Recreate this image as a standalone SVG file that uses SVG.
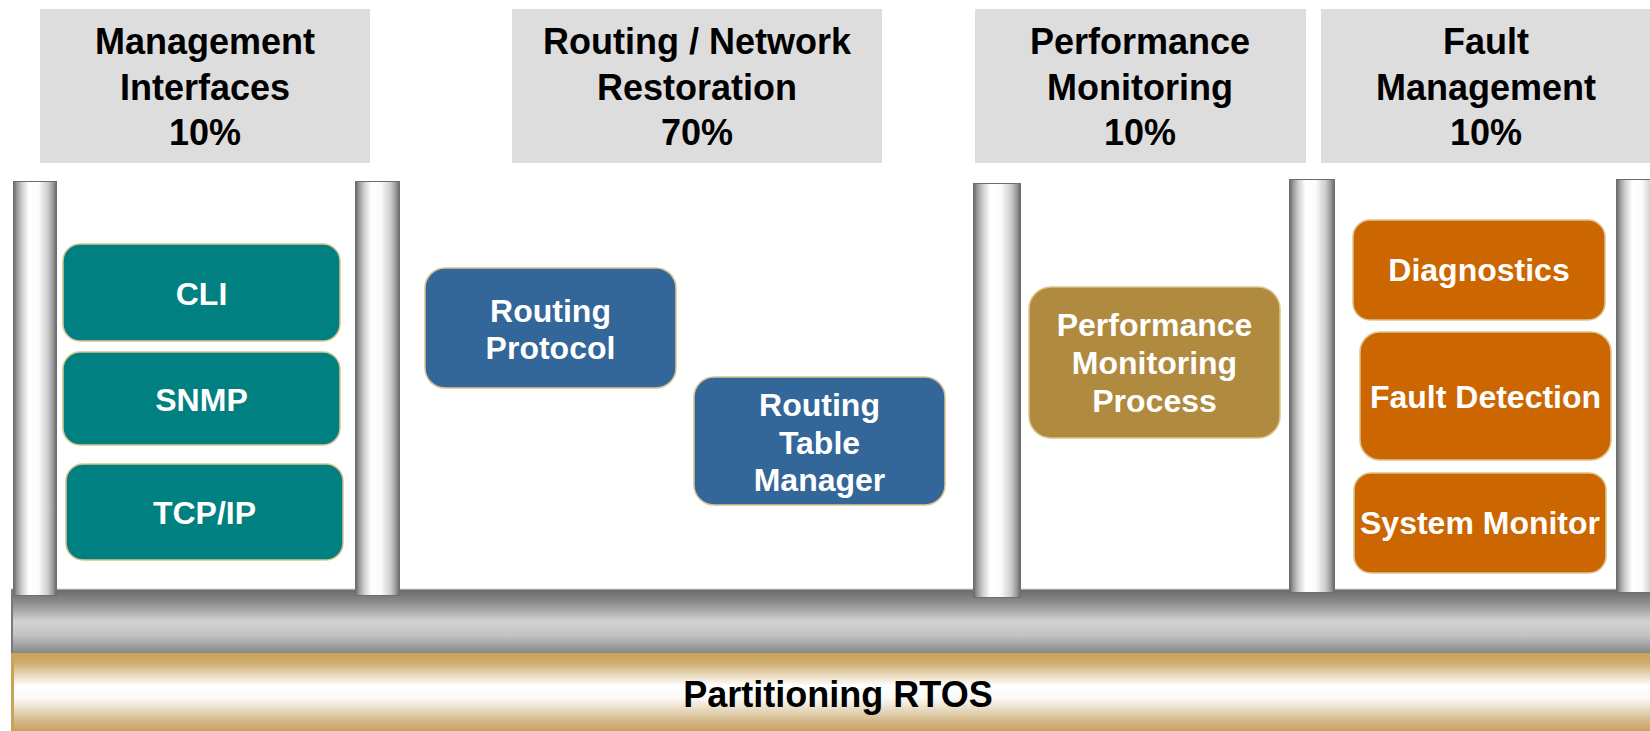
<svg xmlns="http://www.w3.org/2000/svg" width="1650" height="731" viewBox="0 0 1650 731">
  <defs>
    <linearGradient id="pillarGrad" x1="0" y1="0" x2="1" y2="0">
      <stop offset="0" stop-color="#666666"/>
      <stop offset="0.08" stop-color="#9a9a9a"/>
      <stop offset="0.2" stop-color="#cfcfcf"/>
      <stop offset="0.36" stop-color="#ffffff"/>
      <stop offset="0.58" stop-color="#fbfbfb"/>
      <stop offset="0.8" stop-color="#cccccc"/>
      <stop offset="0.92" stop-color="#999999"/>
      <stop offset="1" stop-color="#666666"/>
    </linearGradient>
    <linearGradient id="barGrad" x1="0" y1="0" x2="0" y2="1">
      <stop offset="0" stop-color="#6a6a6a"/>
      <stop offset="0.2" stop-color="#8c8c8c"/>
      <stop offset="0.5" stop-color="#d2d2d2"/>
      <stop offset="0.72" stop-color="#c2c2c2"/>
      <stop offset="1" stop-color="#858585"/>
    </linearGradient>
    <linearGradient id="goldGrad" x1="0" y1="0" x2="0" y2="1">
      <stop offset="0" stop-color="#c8a35a"/>
      <stop offset="0.12" stop-color="#cdab6a"/>
      <stop offset="0.42" stop-color="#ffffff"/>
      <stop offset="0.58" stop-color="#fbfaf8"/>
      <stop offset="0.85" stop-color="#d6bd90"/>
      <stop offset="1" stop-color="#c6a462"/>
    </linearGradient>
  </defs>
  <style>
    .hdr { fill: #dddddd; }
    .hdrText { font-family: "Liberation Sans", Arial, sans-serif; font-weight: bold; font-size: 36px; fill: #000000; text-anchor: middle; }
    .pillar { fill: url(#pillarGrad); stroke: #6e6e6e; stroke-width: 1; }
    .box { stroke: #dcc490; stroke-width: 1.5; }
    .teal { fill: #008080; }
    .blue { fill: #336699; }
    .gold { fill: #b08a3e; }
    .orange { fill: #cc6600; }
    .boxText { font-family: "Liberation Sans", Arial, sans-serif; font-weight: bold; font-size: 32px; fill: #ffffff; text-anchor: middle; }
    .rtosText { font-family: "Liberation Sans", Arial, sans-serif; font-weight: bold; font-size: 36px; fill: #000000; text-anchor: middle; }
  </style>
  <rect x="0" y="0" width="1650" height="731" fill="#ffffff"/>

  <!-- Headers -->
  <g id="hdr-mgmt">
    <rect class="hdr" x="40" y="9" width="330" height="154"/>
    <text class="hdrText" x="205" y="54">Management</text>
    <text class="hdrText" x="205" y="100">Interfaces</text>
    <text class="hdrText" x="205" y="145">10%</text>
  </g>
  <g id="hdr-routing">
    <rect class="hdr" x="512" y="9" width="370" height="154"/>
    <text class="hdrText" x="697" y="54">Routing / Network</text>
    <text class="hdrText" x="697" y="100">Restoration</text>
    <text class="hdrText" x="697" y="145">70%</text>
  </g>
  <g id="hdr-perf">
    <rect class="hdr" x="975" y="9" width="331" height="154"/>
    <text class="hdrText" x="1140" y="54">Performance</text>
    <text class="hdrText" x="1140" y="100">Monitoring</text>
    <text class="hdrText" x="1140" y="145">10%</text>
  </g>
  <g id="hdr-fault">
    <rect class="hdr" x="1321" y="9" width="335" height="154"/>
    <text class="hdrText" x="1486" y="54">Fault</text>
    <text class="hdrText" x="1486" y="100">Management</text>
    <text class="hdrText" x="1486" y="145">10%</text>
  </g>

  <!-- Base bars -->
  <g id="rtos">
    <line x1="11" y1="589" x2="1650" y2="589" stroke="#cfcfcf" stroke-width="1"/>
    <rect x="11" y="589.5" width="1645" height="64" fill="url(#barGrad)"/>
    <rect x="11" y="589.5" width="2" height="64" fill="#7a7a7a"/>
    <rect x="11" y="653" width="1645" height="78" fill="url(#goldGrad)"/>
    <rect x="11" y="653" width="3" height="78" fill="#c8a35a"/>
    <text class="rtosText" x="838" y="707">Partitioning RTOS</text>
  </g>

  <!-- Pillars -->
  <g id="pillars">
    <rect class="pillar" x="13.5" y="181.5" width="43" height="414"/>
    <rect class="pillar" x="355.5" y="181.5" width="44" height="414"/>
    <rect class="pillar" x="973.5" y="183.5" width="47" height="414"/>
    <rect class="pillar" x="1289.5" y="179.5" width="45" height="413"/>
    <rect class="pillar" x="1616.5" y="179.5" width="44" height="413"/>
  </g>

  <!-- Nodes -->
  <g id="cli">
    <rect class="box teal" x="63" y="244" width="277" height="97" rx="17"/>
    <text class="boxText" x="201.5" y="305">CLI</text>
  </g>
  <g id="snmp">
    <rect class="box teal" x="63" y="352" width="277" height="93" rx="17"/>
    <text class="boxText" x="201.5" y="411">SNMP</text>
  </g>
  <g id="tcpip">
    <rect class="box teal" x="66" y="464" width="277" height="96" rx="17"/>
    <text class="boxText" x="204.5" y="524">TCP/IP</text>
  </g>
  <g id="routing-protocol">
    <rect class="box blue" x="425" y="268" width="251" height="120" rx="20"/>
    <text class="boxText" x="550.5" y="322">Routing</text>
    <text class="boxText" x="550.5" y="359">Protocol</text>
  </g>
  <g id="routing-table-manager">
    <rect class="box blue" x="694" y="377" width="251" height="128" rx="20"/>
    <text class="boxText" x="819.5" y="416">Routing</text>
    <text class="boxText" x="819.5" y="454">Table</text>
    <text class="boxText" x="819.5" y="491">Manager</text>
  </g>
  <g id="perf-process">
    <rect class="box gold" x="1029" y="287" width="251" height="151" rx="22"/>
    <text class="boxText" x="1154.5" y="336">Performance</text>
    <text class="boxText" x="1154.5" y="374">Monitoring</text>
    <text class="boxText" x="1154.5" y="412">Process</text>
  </g>
  <g id="diagnostics">
    <rect class="box orange" x="1353" y="220" width="252" height="100" rx="17"/>
    <text class="boxText" x="1479" y="281">Diagnostics</text>
  </g>
  <g id="fault-detection">
    <rect class="box orange" x="1360" y="332" width="251" height="128" rx="20"/>
    <text class="boxText" x="1485.5" y="408">Fault Detection</text>
  </g>
  <g id="system-monitor">
    <rect class="box orange" x="1354" y="473" width="252" height="100" rx="17"/>
    <text class="boxText" x="1480" y="534">System Monitor</text>
  </g>
</svg>
